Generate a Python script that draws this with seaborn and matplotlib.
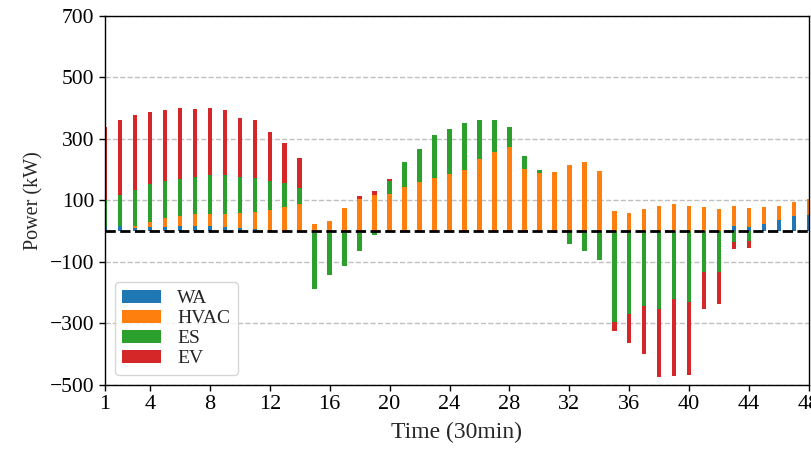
import numpy as np
import pandas as pd
import matplotlib.pyplot as plt
import seaborn as sns

# Load data (kW per 30 min slot)
time = list(range(1, 49))
wa = [12, 15, 10, 12, 12, 16, 16, 15, 14, 11, 8, 5, 0, 0, 0, 0,
      0, 0, 0, 0, 0, 0, 0, 0, 0, 0, 0, 0, 0, 0, 0, 0,
      0, 0, 0, 0, 0, 0, 0, 0, 0, 0, 17, 14, 24, 35, 48, 53]
hvac = [0, 0, 8, 18, 29, 34, 38, 42, 43, 47, 53, 65, 77, 89, 23, 32,
        75, 104, 116, 122, 143, 161, 174, 187, 199, 235, 257, 275, 203, 190, 193, 215,
        225, 194, 64, 60, 72, 83, 88, 83, 79, 72, 64, 62, 53, 48, 47, 50]
es = [90, 101, 117, 123, 123, 121, 123, 127, 124, 119, 113, 92, 79, 52, -188, -142,
      -115, -66, -12, 42, 83, 106, 139, 145, 152, 127, 105, 65, 42, 8, -5, -42,
      -66, -94, -296, -271, -245, -253, -222, -230, -132, -134, -34, -32, 0, 0, 0, 0]
ev = [238, 246, 244, 234, 231, 228, 220, 218, 213, 190, 188, 162, 132, 97, 0, 0,
      0, 9, 14, 5, 0, 0, 0, 0, 0, 0, 0, 0, 0, 0, 0, 0,
      0, 0, -28, -93, -155, -223, -251, -237, -121, -102, -24, -24, 0, 0, 0, 0]

labels = ['WA', 'HVAC', 'ES', 'EV']
series = [wa, hvac, es, ev]
xticks = [1, 4, 8, 12, 16, 20, 24, 28, 32, 36, 40, 44, 48]

sns.set_theme(context='notebook', style='ticks', rc={
    'axes.edgecolor': 'black',
    'axes.linewidth': 1.0,
    'xtick.color': 'black',
    'ytick.color': 'black',
    'xtick.major.width': 1.0,
    'ytick.major.width': 1.0,
    'xtick.major.size': 4,
    'ytick.major.size': 4,
    'font.size': 14,
    'axes.labelsize': 14,
    'xtick.labelsize': 16,
    'ytick.labelsize': 15.5,
    'legend.fontsize': 14,
})
plt.rcParams['font.family'] = ['Liberation Serif', 'DejaVu Serif']
colors = sns.color_palette('tab10', 4)

fig = plt.figure(figsize=(8.12, 4.51), dpi=100)
ax = fig.add_axes([0.1293, 0.147, 0.867, 0.8175])

# Stack positive parts upward and negative parts downward
pos_base = np.zeros(len(time))
neg_base = np.zeros(len(time))
for name, vals, col in zip(labels, series, colors):
    vals = np.array(vals, dtype=float)
    bottom = np.where(vals >= 0, pos_base, neg_base)
    df = pd.DataFrame({'time': time, 'power': vals})
    sns.barplot(data=df, x='time', y='power', native_scale=True, width=0.3,
                color=col, saturation=1, errorbar=None, bottom=bottom,
                linewidth=0, label=name, ax=ax)
    pos_base = pos_base + np.clip(vals, 0, None)
    neg_base = neg_base + np.clip(vals, None, 0)

ax.axhline(0, color='black', lw=2, ls='--', zorder=5)

ax.set_xlim(1, 48)
ax.set_ylim(-500, 700)
ax.set_xticks(xticks)
ax.set_xticklabels([str(t) for t in xticks])
ax.set_yticks(range(-500, 701, 200))
ax.set_axisbelow(True)
ax.yaxis.grid(True, ls='--', color='#c0c0c0', lw=1)
ax.xaxis.grid(False)
for s in ax.spines.values():
    s.set_visible(True)

ax.set_xlabel('Time (30min)', fontsize=17)
ax.set_ylabel('Power (kW)', fontsize=14.5)
ax.xaxis.set_label_coords(0.5, -0.1)
ax.yaxis.set_label_coords(-0.088, 0.5)
ax.legend(loc='lower left', labelspacing=0.12)

plt.savefig('out.png', dpi=100)
